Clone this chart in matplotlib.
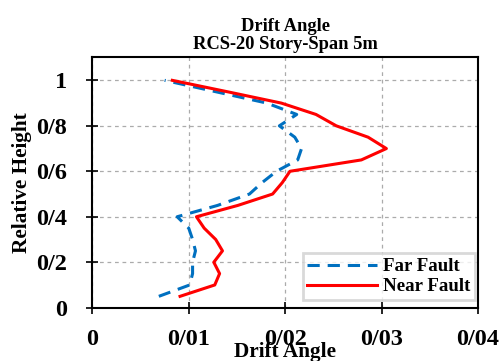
import matplotlib
matplotlib.use("Agg")
import matplotlib.pyplot as plt
from matplotlib.ticker import FixedLocator, FixedFormatter

heights = [0.05, 0.10, 0.15, 0.20, 0.25, 0.30, 0.35, 0.40, 0.45, 0.50,
           0.55, 0.60, 0.65, 0.70, 0.75, 0.80, 0.85, 0.90, 0.95, 1.00]
far_fault = [0.0069, 0.0101, 0.0104, 0.0104, 0.0107, 0.0104, 0.0100, 0.0088, 0.0130, 0.0163,
             0.0176, 0.0191, 0.0213, 0.0217, 0.0210, 0.0194, 0.0212, 0.0181, 0.0128, 0.0075]
near_fault = [0.0091, 0.0127, 0.0132, 0.0126, 0.0135, 0.0128, 0.0116, 0.0108, 0.0151, 0.0187,
              0.0197, 0.0205, 0.0279, 0.0305, 0.0286, 0.0253, 0.0232, 0.0196, 0.0140, 0.0083]

x_ticks = [0, 0.01, 0.02, 0.03, 0.04]
x_tick_labels = ["0", "0/01", "0/02", "0/03", "0/04"]
y_ticks = [0, 0.2, 0.4, 0.6, 0.8, 1.0]
y_tick_labels = ["0", "0/2", "0/4", "0/6", "0/8", "1"]

plt.rcParams['font.family'] = ['Liberation Serif', 'DejaVu Serif']
plt.rcParams['font.weight'] = 'bold'

fig = plt.figure(figsize=(5.02, 3.61), dpi=100)
ax = fig.add_axes([92.3 / 502, 1 - 307.7 / 361, (478 - 92.3) / 502, (307.7 - 56.7) / 361])

ax.plot(far_fault, heights, color='#0070C0', lw=2.2, linestyle=(0, (4.0, 2.6)), label='Far Fault')
ax.plot(near_fault, heights, color='#FF0000', lw=2.2, label='Near Fault')

ax.set_xlim(0, 0.04)
ax.set_ylim(0, 1.104)
ax.xaxis.set_major_locator(FixedLocator(x_ticks))
ax.xaxis.set_major_formatter(FixedFormatter(x_tick_labels))
ax.yaxis.set_major_locator(FixedLocator(y_ticks))
ax.yaxis.set_major_formatter(FixedFormatter(y_tick_labels))

ax.grid(True, color='#ababab', linestyle=(0, (3, 3)), linewidth=0.9)
ax.set_axisbelow(True)
for s in ax.spines.values():
    s.set_linewidth(1.5)
    s.set_color('black')

ax.tick_params(direction='inout', length=9, width=1.2, labelsize=17.5)
ax.tick_params(axis='y', pad=13.5)
ax.tick_params(axis='x', pad=11)
for lbl in ax.get_xticklabels() + ax.get_yticklabels():
    lbl.set_fontweight('bold')

ax.set_title("Drift Angle\nRCS-20 Story-Span 5m", fontsize=13.3, fontweight='bold', pad=5.5, linespacing=1.1)
ax.set_xlabel("Drift Angle", fontsize=15.3, fontweight='bold')
ax.xaxis.set_label_coords(0.5, -0.137)
ax.set_ylabel("Relative Height", fontsize=15.3, fontweight='bold')
ax.yaxis.set_label_coords(-0.156, 0.5)

leg = ax.legend(loc='lower right', bbox_to_anchor=(0.992, 0.031), borderaxespad=0,
                prop={'weight': 'bold', 'size': 13.6},
                handlelength=3.7, frameon=True, fancybox=False, borderpad=0.25,
                labelspacing=0.15, handletextpad=0.3)
leg.get_frame().set_edgecolor('#d0d0d0')
leg.get_frame().set_linewidth(2)

fig.savefig("out.png", dpi=100)
